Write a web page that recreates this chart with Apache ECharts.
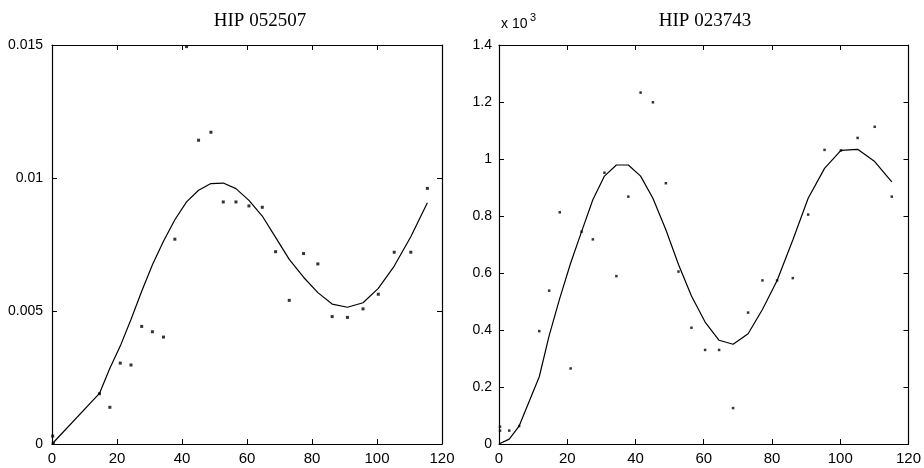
<!DOCTYPE html>
<html>
<head>
<meta charset="utf-8">
<script src="https://cdn.jsdelivr.net/npm/echarts@6/dist/echarts.min.js"></script>
<style>
html,body{margin:0;padding:0;background:#fff;}
#chart{width:924px;height:468px;}
</style>
</head>
<body>
<div id="chart"></div>
<script>
// ---- Left panel: HIP 052507 ----
const leftTitle = 'HIP 052507';
const leftObsX = [0.2, 0.4, 14.6, 17.8, 21.0, 24.3, 27.6, 30.9, 34.3, 37.8, 41.4, 45.1, 48.9, 52.7, 56.6, 60.6, 64.7, 68.8, 73.0, 77.4, 81.8, 86.2, 90.9, 95.7, 100.4, 105.3, 110.4, 115.5];
const leftObsY = [0.0003, 0.00002, 0.00189, 0.00138, 0.00304, 0.00297, 0.00442, 0.00422, 0.00402, 0.00770, 0.01494, 0.01142, 0.01172, 0.00910, 0.00910, 0.00895, 0.00890, 0.00723, 0.00540, 0.00716, 0.00677, 0.00479, 0.00476, 0.00508, 0.00563, 0.00721, 0.00721, 0.00961];
const leftFitX = [0, 14.6, 17.8, 21.0, 24.3, 27.6, 30.9, 34.3, 37.8, 41.4, 45.1, 48.9, 52.7, 56.6, 60.6, 64.7, 68.8, 73.0, 77.4, 81.8, 86.2, 90.9, 95.7, 100.4, 105.3, 110.4, 115.5];
const leftFitY = [0, 0.00190, 0.00285, 0.00368, 0.00468, 0.00574, 0.00674, 0.00762, 0.00843, 0.00910, 0.00954, 0.00979, 0.00981, 0.00960, 0.00916, 0.00857, 0.00777, 0.00694, 0.00627, 0.00569, 0.00526, 0.00514, 0.00531, 0.00585, 0.00669, 0.00779, 0.00907];

// ---- Right panel: HIP 023743 ----
const rightTitle = 'HIP 023743';
const rightObsX = [0.3, 0.3, 3.0, 5.9, 11.8, 14.7, 17.8, 21.0, 24.2, 27.5, 30.9, 34.4, 37.9, 41.5, 45.1, 48.9, 52.6, 56.4, 60.4, 64.5, 68.6, 73.0, 77.2, 81.5, 86.1, 90.6, 95.4, 100.2, 105.1, 110.1, 115.1];
const rightObsY = [0.061, 0.047, 0.047, 0.063, 0.396, 0.538, 0.813, 0.265, 0.745, 0.718, 0.952, 0.589, 0.868, 1.233, 1.199, 0.915, 0.605, 0.408, 0.330, 0.330, 0.126, 0.461, 0.574, 0.574, 0.582, 0.805, 1.032, 1.030, 1.074, 1.113, 0.868];
const rightFitX = [0, 3.0, 5.9, 11.8, 14.7, 17.8, 21.0, 24.2, 27.5, 30.9, 34.4, 37.9, 41.5, 45.1, 48.9, 52.6, 56.4, 60.4, 64.5, 68.6, 73.0, 77.2, 81.5, 86.1, 90.6, 95.4, 100.2, 105.1, 110.1, 115.1];
const rightFitY = [0, 0.017, 0.063, 0.236, 0.380, 0.511, 0.635, 0.745, 0.857, 0.940, 0.979, 0.979, 0.940, 0.862, 0.752, 0.630, 0.519, 0.428, 0.364, 0.350, 0.387, 0.472, 0.574, 0.716, 0.862, 0.967, 1.030, 1.034, 0.991, 0.920];

// ---- Axis ticks ----
const xTicks = [0, 20, 40, 60, 80, 100, 120];
const leftYTicks = [0, 0.005, 0.01, 0.015];
const rightYTicks = [0, 0.2, 0.4, 0.6, 0.8, 1, 1.2, 1.4];
const rightScaleLabel = 'x 10';
const rightScaleExp = '3';

const pairs = (xs, ys) => xs.map((x, i) => [x, ys[i]]);

const axisFont = 'Liberation Sans, Arial, sans-serif';
const lineStyle = { color: '#000', width: 1.2 };

function xAx(grid, pos, show) {
  return {
    type: 'value', gridIndex: grid, position: pos,
    min: xTicks[0], max: xTicks[xTicks.length - 1], interval: xTicks[1] - xTicks[0],
    axisLine: { show: true, onZero: false, lineStyle },
    axisTick: { show: true, inside: true, length: 5, lineStyle: { color: '#000', width: 1 } },
    axisLabel: { show: show, color: '#000', fontSize: 15, fontFamily: axisFont, margin: 7 },
    splitLine: { show: false }
  };
}
function yAx(grid, pos, show, ticks, margin) {
  return {
    type: 'value', gridIndex: grid, position: pos,
    min: ticks[0], max: ticks[ticks.length - 1], interval: ticks[1] - ticks[0],
    axisLine: { show: true, onZero: false, lineStyle },
    axisTick: { show: true, inside: true, length: 5, lineStyle: { color: '#000', width: 1 } },
    axisLabel: { show: show, color: '#000', fontSize: 14, fontFamily: axisFont, margin: margin },
    splitLine: { show: false }
  };
}

const chart = echarts.init(document.getElementById('chart'), null, { renderer: 'canvas' });
chart.setOption({
  animation: false,
  backgroundColor: '#fff',
  title: [
    { text: leftTitle, left: 255, top: 7, textAlign: 'center',
      textStyle: { fontFamily: 'Liberation Serif, Times New Roman, serif', fontWeight: 'normal', fontSize: 19, color: '#000' } },
    { text: rightTitle, left: 700, top: 7, textAlign: 'center',
      textStyle: { fontFamily: 'Liberation Serif, Times New Roman, serif', fontWeight: 'normal', fontSize: 19, color: '#000' } }
  ],
  graphic: [
    { type: 'text', left: 501, top: 17, style: { text: rightScaleLabel, font: '14px Liberation Sans, Arial, sans-serif', fill: '#000' } },
    { type: 'text', left: 530, top: 12, style: { text: rightScaleExp, font: '11px Liberation Sans, Arial, sans-serif', fill: '#000' } }
  ],
  grid: [
    { left: 52, top: 45, width: 390, height: 399 },
    { left: 499, top: 45, width: 411, height: 399 }
  ],
  xAxis: [xAx(0, 'bottom', true), xAx(0, 'top', false), xAx(1, 'bottom', true), xAx(1, 'top', false)],
  yAxis: [
    yAx(0, 'left', true, leftYTicks, 9), yAx(0, 'right', false, leftYTicks, 9),
    yAx(1, 'left', true, rightYTicks, 7), yAx(1, 'right', false, rightYTicks, 7)
  ],
  series: [
    { type: 'line', xAxisIndex: 0, yAxisIndex: 0, data: pairs(leftFitX, leftFitY),
      showSymbol: false, lineStyle: { color: '#000', width: 1.2 }, silent: true },
    { type: 'scatter', xAxisIndex: 0, yAxisIndex: 0, data: pairs(leftObsX, leftObsY),
      symbol: 'rect', symbolSize: 3, itemStyle: { color: '#000' }, silent: true },
    { type: 'line', xAxisIndex: 2, yAxisIndex: 2, data: pairs(rightFitX, rightFitY),
      showSymbol: false, lineStyle: { color: '#000', width: 1.2 }, silent: true },
    { type: 'scatter', xAxisIndex: 2, yAxisIndex: 2, data: pairs(rightObsX, rightObsY),
      symbol: 'rect', symbolSize: 2.5, itemStyle: { color: '#000' }, silent: true }
  ]
});
</script>
</body>
</html>
